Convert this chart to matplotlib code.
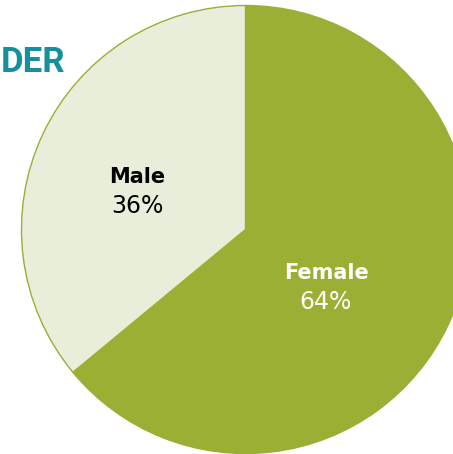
import matplotlib
matplotlib.use("Agg")
import matplotlib.pyplot as plt

categories = ["Female", "Male"]
values = [64, 36]
labels_pct = ["64%", "36%"]
title = "DER"

colors = ["#9aaf33", "#e9eedb"]
W, H = 453, 454
fig = plt.figure(figsize=(W / 100, H / 100), dpi=100)
ax = fig.add_axes([0, 0, 1, 1])
ax.set_axis_off()

cx, cy, r = 245.5, H - 229.5, 224
wedges, _ = ax.pie(values, colors=colors, startangle=90, counterclock=False,
                   center=(cx, cy), radius=r,
                   wedgeprops=dict(edgecolor="#9aaf33", linewidth=1.0))
ax.set_xlim(0, W)
ax.set_ylim(0, H)
ax.set_aspect("equal")

# labels
ax.text(326, H - 273, categories[0], ha="center", va="center", fontsize=15,
        fontweight="bold", color="white", family="DejaVu Sans")
ax.text(326, H - 302, labels_pct[0], ha="center", va="center", fontsize=17,
        color="white", family="DejaVu Sans")
ax.text(137, H - 177, categories[1], ha="center", va="center", fontsize=15,
        fontweight="bold", color="black", family="DejaVu Sans")
ax.text(137, H - 206, labels_pct[1], ha="center", va="center", fontsize=17,
        color="black", family="DejaVu Sans")

ax.text(1, H - 62, title, ha="left", va="center", fontsize=25,
        fontweight="bold", color="#15909c", family="Roboto")

fig.savefig("out.png", dpi=100)
